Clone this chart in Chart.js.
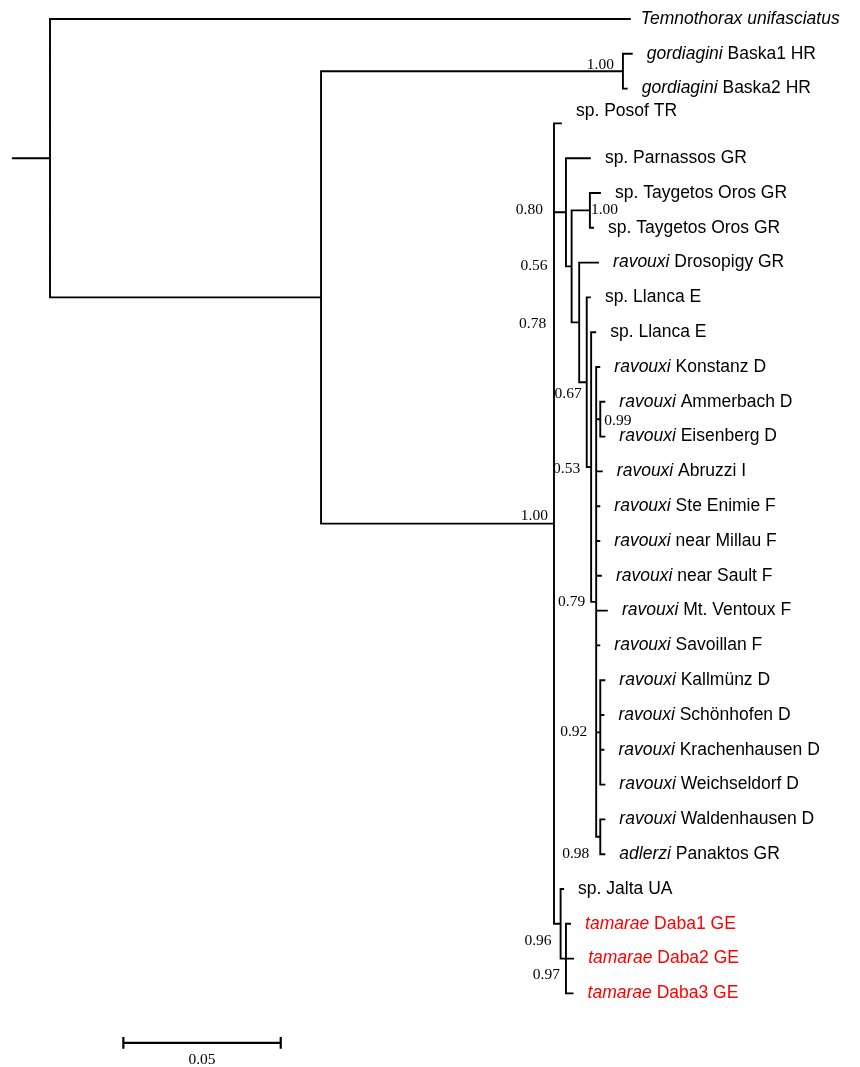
<!DOCTYPE html>
<html>
<head>
<meta charset="utf-8">
<script src="https://cdn.jsdelivr.net/npm/chart.js@4.4.1/dist/chart.umd.min.js"></script>
<style>
  html, body { margin: 0; padding: 0; background: #fff; }
  canvas { display: block; }
</style>
</head>
<body>
<canvas id="tree" width="860" height="1067"></canvas>
<script>
// tips, top to bottom (row = index)
var tipItalic = ['Temnothorax unifasciatus', 'gordiagini', 'gordiagini', '', '', '', '', 'ravouxi', '', '',
  'ravouxi', 'ravouxi', 'ravouxi', 'ravouxi', 'ravouxi', 'ravouxi', 'ravouxi', 'ravouxi', 'ravouxi',
  'ravouxi', 'ravouxi', 'ravouxi', 'ravouxi', 'ravouxi', 'adlerzi', '', 'tamarae', 'tamarae', 'tamarae'];
var tipPlain = ['', ' Baska1 HR', ' Baska2 HR', 'sp. Posof TR', 'sp. Parnassos GR', 'sp. Taygetos Oros GR',
  'sp. Taygetos Oros GR', ' Drosopigy GR', 'sp. Llanca E', 'sp. Llanca E', ' Konstanz D', ' Ammerbach D',
  ' Eisenberg D', ' Abruzzi I', ' Ste Enimie F', ' near Millau F', ' near Sault F', ' Mt. Ventoux F',
  ' Savoillan F', ' Kallmünz D', ' Schönhofen D', ' Krachenhausen D', ' Weichseldorf D', ' Waldenhausen D',
  ' Panaktos GR', 'sp. Jalta UA', ' Daba1 GE', ' Daba2 GE', ' Daba3 GE'];
var tipParent = ['root', 'gord', 'gord', 'main', 'n080', 'tayg', 'tayg', 'n078', 'n067', 'n053',
  'n079', 'n099', 'n099', 'n079', 'n079', 'n079', 'n079', 'n079', 'n079',
  'n092', 'n092', 'n092', 'n092', 'n098', 'n098', 'n096', 'n097', 'n097', 'n097'];
var tipLength = [0.1842, 0.0028, 0.0012, 0.0022, 0.0076, 0.0032, 0.0010, 0.0060, 0.0010, 0.0013,
  0.0010, 0.0013, 0.0013, 0.0018, 0.0010, 0.0010, 0.0015, 0.0034, 0.0010,
  0.0013, 0.0010, 0.0010, 0.0013, 0.0013, 0.0013, 0.0008, 0.0013, 0.0023, 0.0021];

// internal nodes (parents listed before children)
var nodeName = ['root', 'ingroup', 'gord', 'main', 'n080', 'n056', 'tayg', 'n078', 'n067', 'n053',
  'n079', 'n099', 'n092', 'n098', 'n096', 'n097'];
var nodeParent = [null, 'root', 'ingroup', 'ingroup', 'main', 'n080', 'n056', 'n056', 'n078', 'n067',
  'n053', 'n079', 'n079', 'n079', 'main', 'n096'];
var nodeLength = [0, 0.0861, 0.0959, 0.0740, 0.0038, 0.0018, 0.0058, 0.0024, 0.0024, 0.0014,
  0.0016, 0.0013, 0.0013, 0.0013, 0.0021, 0.0017];
var nodeSupport = ['', '', '1.00', '1.00', '0.80', '0.56', '1.00', '0.78', '0.67', '0.53',
  '0.79', '0.99', '0.92', '0.98', '0.96', '0.97'];

var rootStem = 0.0118;
var scaleBarLength = 0.05;
var scaleBarLabel = '0.05';
var redTaxa = ['tamarae'];

// where the support values sit next to their node, in px [dx, dy, align]
var supportPos = {
  gord: [-9, -6, 'right'], main: [-6, -8, 'right'], n080: [-23, -2, 'right'], n056: [-24, 0, 'right'],
  tayg: [1, 0, 'left'], n078: [-33, 2, 'right'], n067: [-5, 12, 'right'], n053: [-11, 2, 'right'],
  n079: [-11, 0, 'right'], n099: [4, 2, 'left'], n092: [-13, 0, 'right'], n098: [-11, 17, 'right'],
  n096: [-9, 17, 'right'], n097: [-6, 16, 'right']
};
var labelNudge = { 3: -12 };

// depth (x) of every node
var nodeX = {}, nodeY = {};
nodeName.forEach(function (n, i) {
  nodeX[n] = nodeParent[i] ? nodeX[nodeParent[i]] + nodeLength[i] : 0;
});
var tipX = tipParent.map(function (p, i) { return nodeX[p] + tipLength[i]; });

// row (y) of internal nodes: middle of the outermost children
var childSpan = {};
for (var k = nodeName.length - 1; k >= 0; k--) {
  var n = nodeName[k], ys = [];
  tipParent.forEach(function (p, i) { if (p === n) ys.push(i); });
  nodeParent.forEach(function (p, i) { if (p === n) ys.push(nodeY[nodeName[i]]); });
  childSpan[n] = [Math.min.apply(null, ys), Math.max.apply(null, ys)];
  nodeY[n] = (childSpan[n][0] + childSpan[n][1]) / 2;
}

// branches as one broken line
var branches = [];
function seg(x1, y1, x2, y2) {
  branches.push({ x: x1, y: y1 }, { x: x2, y: y2 }, { x: x2, y: null });
}
seg(-rootStem, nodeY.root, 0, nodeY.root);
nodeName.forEach(function (n, i) {
  if (nodeParent[i]) seg(nodeX[nodeParent[i]], nodeY[n], nodeX[n], nodeY[n]);
  seg(nodeX[n], childSpan[n][0], nodeX[n], childSpan[n][1]);
});
tipParent.forEach(function (p, i) { seg(nodeX[p], i, tipX[i], i); });

var barStart = 0.0233, barRow = 29.42, tickRows = 0.17;
var bar = [];
bar.push({ x: barStart, y: barRow }, { x: barStart + scaleBarLength, y: barRow }, { x: 0, y: null });
bar.push({ x: barStart, y: barRow - tickRows }, { x: barStart, y: barRow + tickRows }, { x: 0, y: null });
bar.push({ x: barStart + scaleBarLength, y: barRow - tickRows }, { x: barStart + scaleBarLength, y: barRow + tickRows });

var labelPlugin = {
  id: 'treeLabels',
  afterDatasetsDraw: function (chart) {
    var ctx = chart.ctx, sx = chart.scales.x, sy = chart.scales.y;
    var sans = '17.5px "Liberation Sans", Arial, sans-serif';
    var serif = '15.5px "Liberation Serif", "Times New Roman", serif';
    ctx.save();
    ctx.textBaseline = 'middle';
    ctx.textAlign = 'left';
    tipItalic.forEach(function (it, i) {
      var px = sx.getPixelForValue(tipX[i]) + (i === 0 ? 11 : 15);
      var py = sy.getPixelForValue(i) + (labelNudge[i] || 0);
      ctx.fillStyle = redTaxa.indexOf(it) >= 0 ? '#ff0000' : '#000';
      if (it) {
        ctx.font = 'italic ' + sans;
        ctx.fillText(it, px, py);
        px += ctx.measureText(it).width;
      }
      if (tipPlain[i]) {
        ctx.font = sans;
        ctx.fillText(tipPlain[i], px, py);
      }
    });
    ctx.font = serif;
    ctx.fillStyle = '#000';
    nodeName.forEach(function (n, i) {
      if (!nodeSupport[i]) return;
      var pos = supportPos[n];
      ctx.textAlign = pos[2];
      ctx.fillText(nodeSupport[i], sx.getPixelForValue(nodeX[n]) + pos[0], sy.getPixelForValue(nodeY[n]) + pos[1]);
    });
    ctx.textAlign = 'center';
    ctx.fillText(scaleBarLabel, sx.getPixelForValue(barStart + scaleBarLength / 2), sy.getPixelForValue(barRow) + 17);
    ctx.restore();
  }
};

new Chart(document.getElementById('tree'), {
  type: 'scatter',
  data: {
    datasets: [
      { data: branches, showLine: true, spanGaps: false, borderColor: '#000', borderWidth: 1.9,
        borderCapStyle: 'square', pointRadius: 0 },
      { data: bar, showLine: true, spanGaps: false, borderColor: '#000', borderWidth: 2.2,
        borderCapStyle: 'butt', pointRadius: 0 }
    ]
  },
  options: {
    responsive: false,
    animation: false,
    layout: { padding: 0 },
    plugins: { legend: { display: false }, tooltip: { enabled: false } },
    scales: {
      x: { type: 'linear', display: false, min: -50 / 3148, max: 810 / 3148 },
      y: { type: 'linear', display: false, reverse: true, min: -19 / 34.8, max: 1048 / 34.8 }
    }
  },
  plugins: [labelPlugin]
});
</script>
</body>
</html>
